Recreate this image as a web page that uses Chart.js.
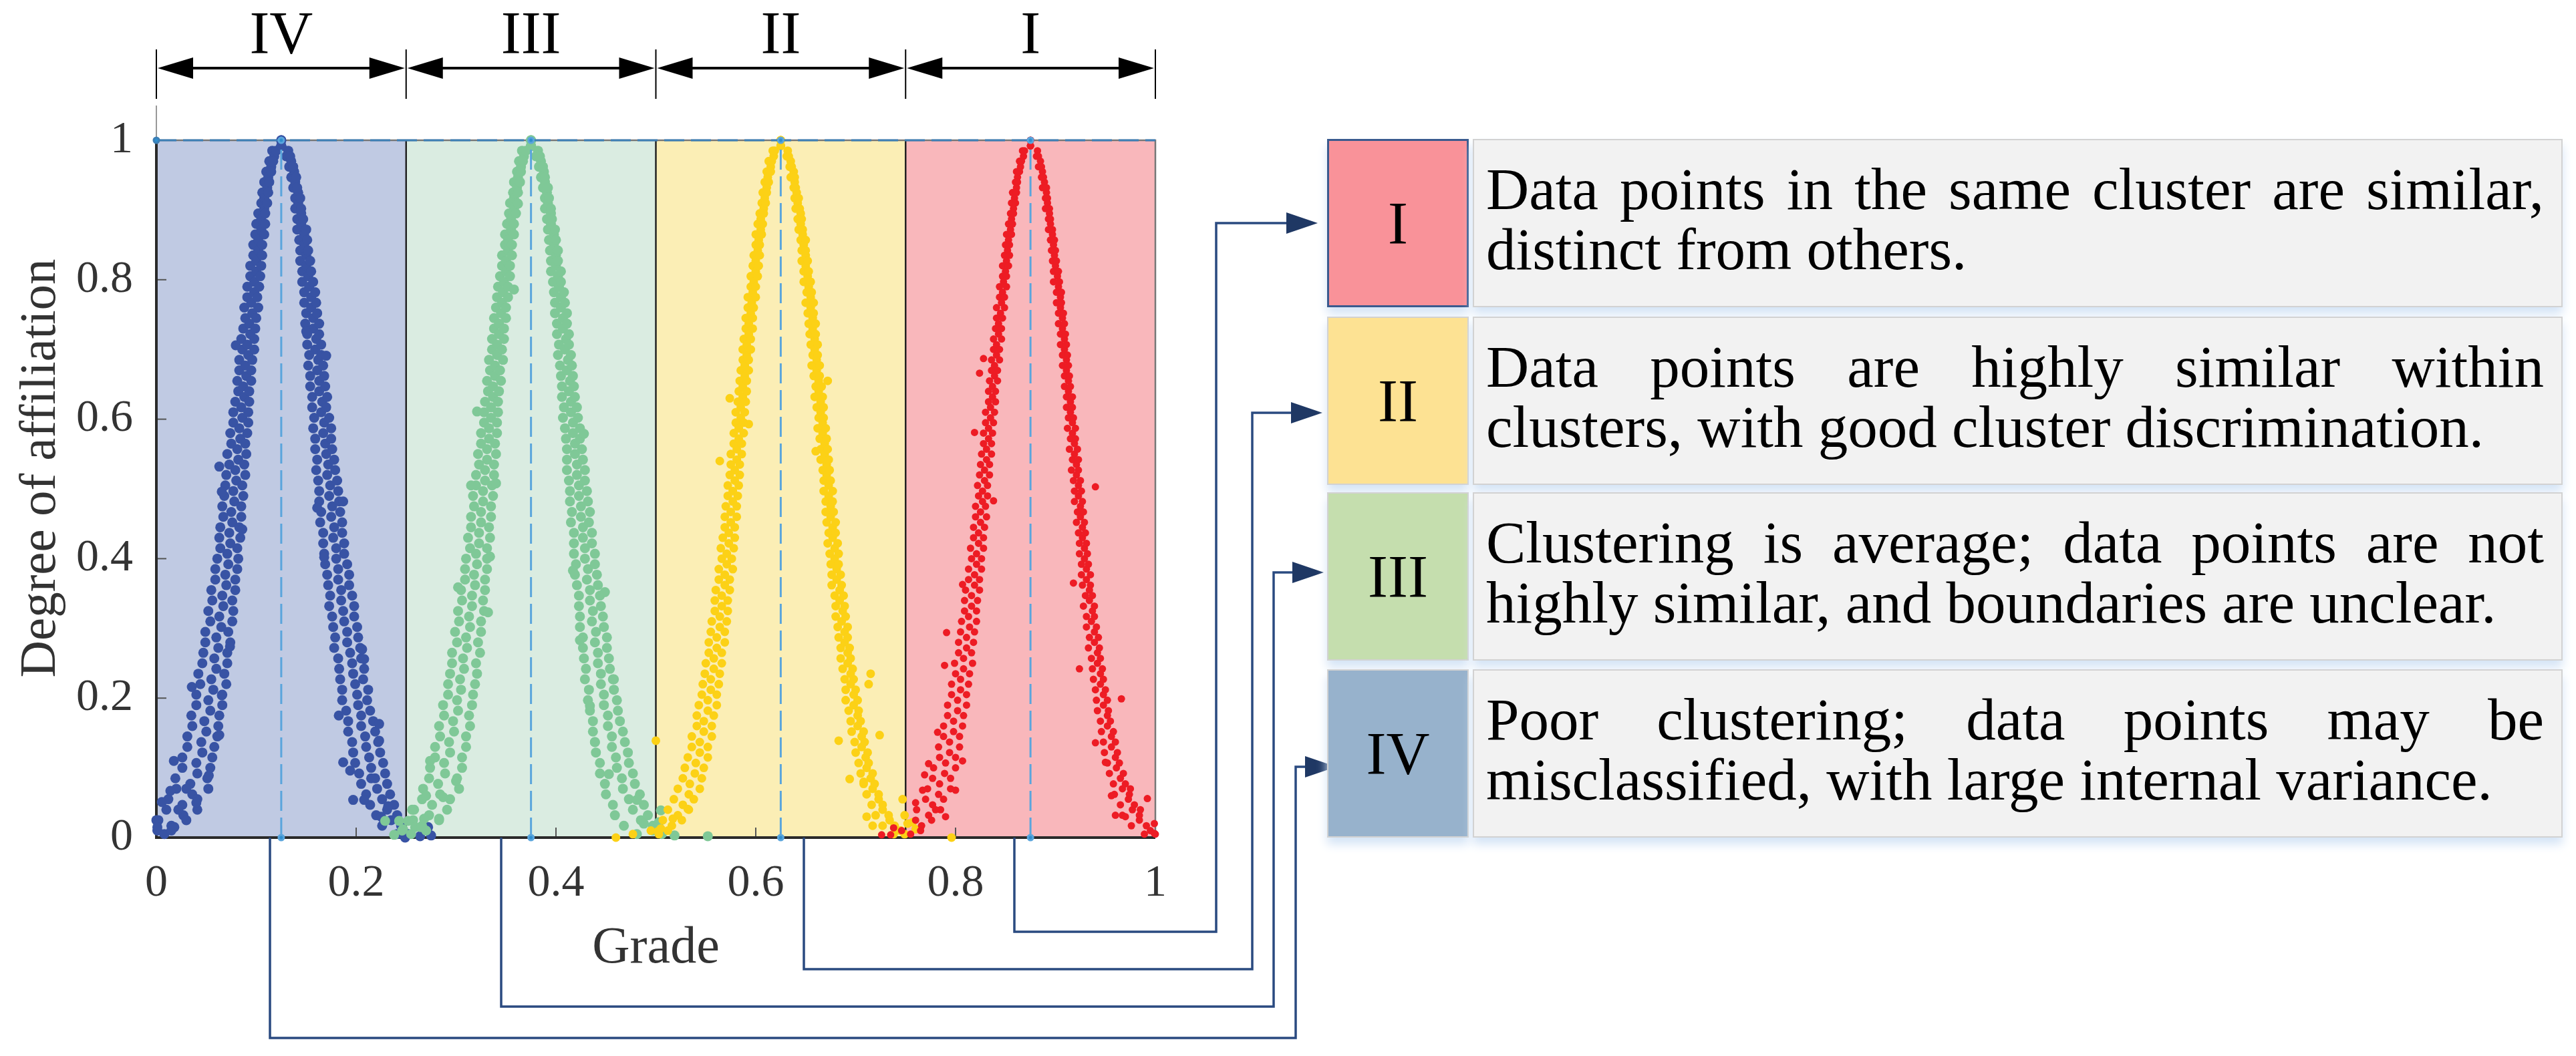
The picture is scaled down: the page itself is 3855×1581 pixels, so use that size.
<!DOCTYPE html>
<html>
<head>
<meta charset="utf-8">
<title>Degree of affiliation by grade</title>
<script src="https://cdn.jsdelivr.net/npm/chart.js@4/dist/chart.umd.min.js"></script>
<style>
  html, body { margin: 0; padding: 0; background: #fff; }
  #wrap { position: relative; width: 3855px; height: 1581px; overflow: hidden; font-family: "Liberation Serif", serif; color: #000; }
  canvas { position: absolute; left: 0; top: 0; }
  .key, .note { position: absolute; box-sizing: border-box; height: 252px; box-shadow: 0 10px 14px #d4e4f6; }
  .key { left: 1986px; width: 212px; display: flex; align-items: center; justify-content: center; font-size: 90px; border: 2px solid #d2d2d2; }
  .note { left: 2204px; width: 1631px; background: #f2f2f2; border: 2px solid #d2d2d2; padding: 28px 26px 0 18px; font-size: 89px; line-height: 90px; }
  .note div:first-child { text-align: justify; text-align-last: justify; }
</style>
</head>
<body>
<div id="wrap">
  <canvas id="grades" width="3855" height="1581"></canvas>
  <div class="key" style="top:208px;background:#f99299;border:3px solid #3a5a8e">I</div>
  <div class="note" style="top:208px"><div>Data points in the same cluster are similar,</div><div>distinct from others.</div></div>
  <div class="key" style="top:474px;background:#fde293">II</div>
  <div class="note" style="top:474px"><div>Data points are highly similar within</div><div>clusters, with good cluster discrimination.</div></div>
  <div class="key" style="top:737px;background:#c5deae">III</div>
  <div class="note" style="top:737px"><div>Clustering is average; data points are not</div><div>highly similar, and boundaries are unclear.</div></div>
  <div class="key" style="top:1002px;background:#97b2cc">IV</div>
  <div class="note" style="top:1002px"><div>Poor clustering; data points may be</div><div>misclassified, with large internal variance.</div></div>
</div>
<script>
const gradeTicks = [0, 0.2, 0.4, 0.6, 0.8, 1];
const affiliationTicks = [0, 0.2, 0.4, 0.6, 0.8, 1];
const bandEdges = [0, 0.25, 0.5, 0.75, 1];
const bandNames = ['IV', 'III', 'II', 'I'];
const bandCentres = [0.125, 0.375, 0.625, 0.875];

// affiliation levels the bands were read at
const levelsA = [1,.985,.97,.955,.94,.925,.91,.895,.88,.865,.85,.835,.82,.805,.79,.775,.76,.745,.73,.715,.7,.685,.67,.655,.64,.625,.61,.595,.58,.565,.55,.535,.52,.505,.49,.475,.46,.445,.43,.415,.4,.385,.37,.355,.34,.325,.31,.295,.28,.265,.25,.235,.22,.205,.19,.175,.16,.145,.13,.115,.1,.085,.07,.055,.04,.025,.01];
const levelsB = [.992,.977,.962,.947,.932,.917,.902,.887,.872,.857,.842,.827,.812,.797,.782,.767,.752,.737,.722,.707,.692,.677,.662,.647,.632,.617,.602,.587,.572,.557,.542,.527,.512,.497,.482,.467,.452,.437,.422,.407,.392,.377,.362,.347,.332,.317,.302,.287,.272,.257,.242,.227,.212,.197,.182,.167,.152,.137,.122,.107,.092,.077,.062,.047,.032,.017,.005];

// grade IV, outer edge, middle and inner edge of each flank
const ivLeftOuter = [.125,.116,.113,.110,.108,.106,.105,.102,.100,.099,.097,.097,.094,.094,.091,.091,.088,.089,.087,.085,.086,.083,.083,.081,.082,.079,.077,.077,.074,.075,.071,.073,.070,.069,.068,.066,.067,.064,.063,.064,.061,.059,.059,.055,.056,.052,.054,.049,.049,.047,.046,.042,.044,.040,.040,.035,.036,.031,.031,.026,.026,.019,.020,.012,.010,.002,.001];
const ivLeftMiddle = [.125,.118,.115,.112,.111,.108,.108,.105,.105,.102,.102,.100,.100,.098,.098,.095,.096,.093,.094,.091,.092,.089,.090,.087,.088,.085,.086,.083,.084,.081,.082,.079,.080,.077,.078,.075,.076,.073,.074,.071,.072,.069,.070,.066,.067,.063,.065,.060,.062,.058,.060,.055,.057,.052,.054,.048,.050,.045,.046,.040,.041,.034,.036,.026,.027,.015,.008];
const ivLeftInner = [.125,.120,.117,.115,.113,.112,.111,.109,.109,.108,.106,.106,.105,.104,.103,.101,.102,.100,.099,.098,.098,.096,.095,.095,.093,.093,.092,.092,.091,.089,.090,.088,.089,.086,.087,.085,.085,.083,.084,.081,.082,.081,.079,.079,.076,.077,.076,.072,.074,.071,.071,.068,.070,.066,.066,.063,.062,.061,.058,.056,.054,.051,.052,.041,.041,.030,.015];
const ivRightInner = [.125,.130,.133,.135,.137,.139,.139,.141,.141,.143,.144,.144,.146,.146,.148,.148,.150,.149,.151,.151,.153,.152,.154,.154,.156,.156,.158,.157,.159,.159,.161,.160,.162,.163,.163,.165,.164,.167,.167,.168,.169,.171,.172,.174,.173,.176,.177,.179,.178,.182,.183,.184,.186,.186,.190,.192,.192,.196,.197,.199,.203,.205,.210,.214,.220,.226,.241];
const ivRightMiddle = [.125,.132,.135,.138,.139,.142,.142,.145,.145,.148,.148,.150,.150,.152,.153,.155,.155,.157,.157,.160,.159,.162,.161,.163,.163,.166,.165,.168,.167,.169,.170,.172,.171,.174,.173,.176,.175,.178,.177,.180,.180,.182,.182,.185,.185,.187,.188,.191,.191,.194,.196,.197,.199,.201,.202,.205,.205,.209,.210,.213,.215,.219,.221,.226,.231,.235,.247];
const ivRightOuter = [.125,.134,.137,.140,.141,.144,.145,.147,.150,.151,.152,.154,.155,.157,.159,.160,.161,.163,.163,.165,.165,.167,.168,.169,.171,.170,.173,.175,.175,.176,.178,.179,.181,.182,.183,.184,.186,.186,.188,.188,.191,.193,.193,.196,.198,.198,.201,.202,.204,.205,.208,.207,.212,.211,.214,.217,.219,.222,.224,.227,.229,.231,.234,.238,.241,.245,.252];
const ivStray = [[.1826,.175],[.197,.054],[.187,.108],[.194,.096],[.223,.163],[.223,.139],[.208,.256],[.206,.270],[.0737,.274],[.0525,.089],[.063,.147],[.0655,.204],[.0355,.216],[.0175,.110],[.0055,.051],[.014,.067],[.208,.054],[.168,.402],[.249,0],[.264,.002],[.275,.003],[.272,.015],[.018,.015],[0,.025],[.001,.015],[.086,.442],[.063,.532],[.0655,.496],[.161,.473],[.187,.482],[.0795,.706],[.150,.726],[.170,.691],[.225,.03],[.232,.045],[.215,.085],[.03,.07],[.04,.05],[.022,.04]];

// grade III
const iiiLeftOuter = [.375,.366,.363,.361,.358,.357,.354,.353,.351,.349,.349,.346,.346,.344,.342,.341,.340,.338,.338,.336,.336,.333,.334,.331,.332,.329,.328,.328,.325,.325,.322,.323,.320,.320,.317,.318,.315,.315,.312,.314,.310,.309,.309,.305,.306,.302,.303,.299,.301,.296,.296,.294,.292,.292,.287,.288,.283,.284,.279,.279,.274,.273,.267,.266,.258,.257,.246];
const iiiLeftMiddle = [.375,.368,.365,.362,.361,.358,.358,.355,.355,.352,.352,.350,.350,.348,.347,.346,.345,.343,.343,.341,.341,.339,.339,.337,.337,.335,.335,.333,.333,.331,.331,.329,.329,.327,.327,.325,.325,.323,.323,.320,.321,.318,.319,.316,.316,.313,.314,.310,.311,.307,.308,.304,.305,.301,.302,.297,.298,.293,.294,.288,.289,.282,.284,.276,.273,.266,.255];
const iiiLeftInner = [.375,.370,.367,.365,.364,.362,.361,.360,.358,.358,.356,.356,.354,.354,.352,.352,.350,.350,.348,.348,.346,.347,.344,.345,.343,.342,.342,.341,.341,.339,.340,.338,.338,.336,.337,.335,.335,.333,.334,.331,.331,.331,.329,.329,.327,.328,.325,.325,.322,.324,.320,.321,.319,.317,.316,.313,.314,.310,.310,.306,.306,.301,.303,.294,.291,.283,.270];
const iiiRightInner = [.375,.380,.383,.385,.387,.389,.389,.391,.392,.393,.394,.395,.395,.397,.398,.399,.399,.401,.401,.403,.402,.404,.405,.406,.406,.408,.407,.409,.410,.411,.411,.411,.413,.414,.414,.416,.415,.418,.418,.418,.420,.419,.421,.423,.423,.424,.424,.427,.427,.428,.430,.429,.433,.432,.434,.437,.437,.439,.440,.444,.444,.449,.450,.457,.459,.468,.481];
const iiiRightMiddle = [.375,.382,.385,.388,.389,.391,.392,.395,.395,.398,.398,.400,.400,.402,.403,.405,.405,.407,.407,.410,.409,.412,.411,.414,.413,.415,.415,.417,.417,.419,.419,.421,.421,.423,.423,.425,.425,.427,.427,.429,.429,.432,.431,.434,.434,.437,.436,.440,.439,.442,.442,.445,.445,.448,.448,.452,.452,.456,.456,.460,.461,.466,.467,.473,.477,.485,.497];
const iiiRightOuter = [.375,.384,.387,.389,.392,.393,.395,.396,.399,.400,.402,.402,.405,.405,.408,.409,.411,.411,.413,.413,.415,.416,.417,.418,.419,.421,.422,.424,.424,.426,.427,.429,.429,.431,.432,.434,.433,.436,.436,.439,.439,.441,.442,.444,.445,.447,.448,.451,.451,.453,.454,.457,.458,.461,.462,.464,.467,.469,.472,.473,.477,.479,.484,.488,.492,.497,.506];
const iiiStray = [[.332,.323],[.302,.359],[.334,.403],[.417,.383],[.449,.352],[.424,.283],[.434,.189],[.458,.227],[.439,.137],[.453,.091],[.481,.054],[.274,.110],[.300,.081],[.287,.058],[.283,.027],[.505,.039],[.229,.024],[.238,.004],[.315,.505],[.340,.508],[.321,.611],[.428,.579],[.362,.909],[.358,.786],[.5187,.003],[.552,.002],[.243,.024],[.252,.024],[.247,.012],[.259,.015],[.265,.015],[.268,.027],[.256,.04],[.488,.02],[.498,.012],[.503,.022],[.27,.06]];

// grade II
const iiLeftOuter = [.625,.617,.613,.611,.609,.607,.606,.604,.602,.600,.600,.598,.597,.595,.595,.592,.592,.590,.590,.588,.587,.587,.585,.584,.583,.582,.580,.580,.578,.578,.575,.575,.574,.572,.572,.570,.569,.569,.567,.565,.566,.563,.563,.560,.559,.559,.556,.555,.553,.553,.550,.549,.547,.546,.543,.541,.541,.536,.536,.532,.529,.527,.522,.518,.512,.507,.495];
const iiLeftMiddle = [.625,.618,.615,.612,.611,.609,.608,.605,.605,.603,.602,.600,.600,.598,.597,.596,.595,.593,.593,.591,.591,.589,.589,.587,.587,.585,.585,.583,.583,.581,.581,.579,.579,.577,.577,.575,.575,.573,.573,.571,.571,.569,.569,.566,.566,.564,.564,.561,.561,.558,.558,.555,.555,.552,.552,.548,.548,.544,.544,.540,.539,.534,.533,.527,.522,.516,.503];
const iiLeftInner = [.625,.619,.616,.615,.613,.611,.610,.608,.607,.606,.604,.604,.603,.602,.600,.600,.598,.597,.597,.595,.595,.593,.593,.591,.591,.590,.589,.588,.588,.586,.586,.584,.584,.583,.582,.581,.581,.579,.579,.578,.576,.577,.574,.574,.572,.572,.571,.569,.569,.566,.566,.564,.563,.561,.561,.558,.556,.556,.552,.552,.548,.546,.544,.538,.533,.526,.512];
const iiRightInner = [.625,.631,.634,.635,.638,.639,.640,.642,.643,.645,.646,.646,.648,.648,.651,.650,.652,.653,.654,.655,.657,.656,.658,.660,.659,.661,.663,.662,.664,.665,.665,.667,.668,.668,.670,.670,.671,.673,.672,.674,.675,.676,.676,.679,.680,.680,.682,.683,.685,.685,.687,.689,.690,.690,.693,.695,.696,.699,.700,.703,.705,.708,.711,.716,.720,.727,.738];
const iiRightMiddle = [.625,.632,.635,.638,.639,.641,.642,.645,.645,.647,.648,.650,.650,.652,.653,.655,.655,.657,.657,.659,.659,.661,.661,.663,.663,.665,.665,.667,.667,.669,.669,.671,.671,.673,.673,.675,.675,.677,.677,.679,.679,.681,.681,.684,.684,.687,.686,.689,.689,.692,.692,.695,.695,.698,.698,.702,.702,.706,.706,.710,.711,.715,.717,.723,.727,.734,.745];
const iiRightOuter = [.625,.633,.636,.639,.640,.643,.644,.646,.647,.650,.650,.652,.653,.655,.656,.658,.658,.660,.660,.662,.662,.664,.664,.666,.667,.668,.668,.670,.671,.672,.673,.674,.675,.677,.677,.678,.680,.680,.682,.683,.683,.685,.686,.688,.689,.690,.692,.692,.694,.695,.697,.698,.700,.702,.703,.705,.708,.709,.712,.713,.717,.719,.723,.727,.733,.739,.749];
const iiStray = [[.5,.139],[.683,.139],[.715,.235],[.713,.22],[.724,.147],[.694,.084],[.708,.080],[.711,.030],[.747,.055],[.717,.017],[.517,.027],[.532,.041],[.796,0],[.460,0],[.477,.005],[.502,.009],[.505,.013],[.749,.032],[.760,.012],[.757,.022],[.752,.02],[.593,.593],[.574,.630],[.564,.540],[.672,.655],[.660,.554]];

// grade I
const iLeftOuter = [.875,.867,.864,.861,.860,.857,.856,.855,.853,.851,.850,.849,.847,.847,.844,.844,.841,.841,.840,.838,.838,.836,.836,.834,.833,.833,.830,.830,.828,.828,.826,.825,.824,.822,.823,.820,.820,.818,.818,.815,.816,.813,.813,.810,.809,.809,.806,.805,.803,.803,.799,.800,.796,.796,.792,.792,.788,.788,.783,.784,.778,.777,.772,.770,.761,.760,.746];
const iLeftMiddle = [.875,.868,.865,.862,.861,.859,.858,.856,.855,.853,.852,.851,.850,.848,.847,.846,.845,.843,.843,.841,.841,.839,.839,.837,.837,.835,.835,.833,.833,.831,.831,.829,.829,.827,.827,.825,.825,.823,.823,.821,.821,.819,.819,.816,.816,.813,.814,.811,.811,.808,.808,.805,.805,.802,.802,.798,.798,.794,.794,.790,.789,.784,.783,.777,.773,.766,.755];
const iLeftInner = [.875,.869,.866,.864,.862,.861,.860,.858,.857,.856,.854,.854,.853,.851,.851,.849,.849,.847,.846,.846,.844,.844,.842,.842,.840,.840,.839,.838,.837,.836,.836,.834,.834,.832,.832,.830,.831,.829,.828,.828,.826,.826,.824,.824,.822,.821,.821,.819,.818,.816,.817,.814,.813,.811,.811,.808,.807,.804,.804,.800,.800,.795,.795,.788,.785,.776,.765];
const iRightInner = [.875,.881,.883,.886,.887,.890,.890,.893,.893,.895,.896,.897,.898,.898,.901,.901,.903,.903,.905,.905,.907,.907,.909,.909,.911,.911,.913,.912,.915,.914,.917,.916,.918,.919,.919,.922,.921,.923,.924,.924,.926,.926,.927,.930,.928,.931,.931,.934,.933,.936,.937,.938,.940,.941,.942,.945,.946,.948,.949,.952,.954,.958,.959,.965,.967,.976,.989];
const iRightMiddle = [.875,.882,.885,.887,.889,.891,.892,.894,.895,.897,.898,.899,.900,.902,.903,.905,.905,.907,.907,.909,.909,.911,.911,.913,.913,.915,.915,.917,.917,.919,.919,.921,.921,.923,.923,.925,.925,.927,.927,.929,.929,.931,.931,.934,.934,.937,.936,.939,.939,.942,.942,.945,.945,.948,.948,.952,.952,.956,.956,.960,.961,.965,.967,.973,.977,.984,.995];
const iRightOuter = [.875,.883,.886,.888,.891,.892,.894,.895,.897,.899,.900,.901,.903,.904,.906,.906,.908,.909,.910,.911,.912,.913,.914,.915,.917,.917,.918,.920,.920,.922,.923,.923,.925,.926,.927,.928,.929,.930,.931,.932,.933,.935,.935,.937,.939,.939,.941,.943,.944,.945,.947,.948,.950,.952,.953,.955,.958,.960,.962,.964,.968,.970,.974,.979,.984,.991,1];
const iStray = [[.791,.294],[.789,.247],[.782,.151],[.773,.106],[.769,.090],[.767,.068],[.800,.068],[.807,.110],[.924,.242],[.966,.199],[.940,.136],[.950,.108],[.956,.060],[.960,.032],[.992,.056],[.999,.020],[.999,.006],[.726,.004],[.735,.004],[.738,.014],[.807,.363],[.918,.365],[.940,.503],[.828,.687],[.824,.666],[.838,.483],[.819,.581],[.985,.04],[.975,.07],[.97,.03],[.78,.04],[.79,.03],[.76,.05]];

const bandFills = ['#c0cae3', '#daece1', '#fbeeb5', '#f9b7bb'];
const W = 3855, H = 1581;
const plotBox = { left: 234, right: 1729, top: 210, bottom: 1254 };
const serif = '"Liberation Serif", serif';
const navy = '#1f3864';

// connector routes from below the axis to each key box
const links = [
  { fromX: 1518, dropY: 1395, riseX: 1820, toY: 334, tipX: 1972 },
  { fromX: 1203, dropY: 1451, riseX: 1874, toY: 618, tipX: 1979 },
  { fromX: 750, dropY: 1507, riseX: 1906, toY: 857, tipX: 1981 },
  { fromX: 404, dropY: 1554, riseX: 1939, toY: 1148, tipX: 2000 }
];

const zip = (xs, ys) => xs.map((x, i) => ({ x: x, y: ys[i] }));
const stray = pairs => pairs.map(p => ({ x: p[0], y: p[1] }));

function cluster(label, colour, radius, flanks, extra) {
  return {
    label: label,
    data: [
      ...zip(flanks[0], levelsA), ...zip(flanks[1], levelsB), ...zip(flanks[2], levelsA),
      ...zip(flanks[3], levelsB), ...zip(flanks[4], levelsA), ...zip(flanks[5], levelsB),
      ...stray(extra)
    ],
    backgroundColor: colour,
    borderWidth: 0,
    pointRadius: radius,
    clip: false
  };
}

function dashed(data, colour, radii) {
  return {
    type: 'line',
    data: data,
    borderColor: colour,
    borderWidth: 3,
    borderDash: [30, 10],
    backgroundColor: '#2f8fd0',
    pointRadius: radii,
    clip: false
  };
}

function arrowHead(ctx, tipX, y, dir, len, half, colour) {
  ctx.fillStyle = colour;
  ctx.beginPath();
  ctx.moveTo(tipX, y);
  ctx.lineTo(tipX - dir * len, y - half);
  ctx.lineTo(tipX - dir * len, y + half);
  ctx.closePath();
  ctx.fill();
}

const backdrop = {
  id: 'backdrop',
  beforeDatasetsDraw(chart) {
    const { ctx, scales: { x, y } } = chart;
    const top = y.getPixelForValue(1), bottom = y.getPixelForValue(0);
    const left = x.getPixelForValue(0), right = x.getPixelForValue(1);
    ctx.save();
    bandFills.forEach((fill, i) => {
      const a = x.getPixelForValue(bandEdges[i]), b = x.getPixelForValue(bandEdges[i + 1]);
      ctx.fillStyle = fill;
      ctx.fillRect(a, top, b - a, bottom - top);
    });
    ctx.strokeStyle = '#555';
    ctx.lineWidth = 2;
    gradeTicks.slice(1, -1).forEach(v => {
      const p = x.getPixelForValue(v);
      ctx.beginPath(); ctx.moveTo(p, bottom); ctx.lineTo(p, bottom - 15); ctx.stroke();
    });
    affiliationTicks.slice(1, -1).forEach(v => {
      const p = y.getPixelForValue(v);
      ctx.beginPath(); ctx.moveTo(left, p); ctx.lineTo(left + 15, p); ctx.stroke();
    });
    ctx.strokeStyle = '#222';
    ctx.lineWidth = 2.5;
    bandEdges.slice(1, -1).forEach(v => {
      const p = x.getPixelForValue(v);
      ctx.beginPath(); ctx.moveTo(p, top); ctx.lineTo(p, bottom); ctx.stroke();
    });
    // frame
    ctx.strokeStyle = '#777';
    ctx.lineWidth = 2.5;
    ctx.beginPath(); ctx.moveTo(left, top); ctx.lineTo(right, top); ctx.lineTo(right, bottom); ctx.stroke();
    ctx.strokeStyle = '#2a2a2a';
    ctx.lineWidth = 4;
    ctx.beginPath(); ctx.moveTo(left, top); ctx.lineTo(left, bottom); ctx.lineTo(right, bottom); ctx.stroke();
    ctx.strokeStyle = '#999';
    ctx.lineWidth = 2;
    ctx.beginPath(); ctx.moveTo(left, 158); ctx.lineTo(left, top); ctx.stroke();
    ctx.restore();
  }
};

const callouts = {
  id: 'callouts',
  afterDraw(chart) {
    const { ctx, scales: { x } } = chart;
    ctx.save();
    // range arrows above the plot
    ctx.strokeStyle = '#000';
    bandEdges.forEach(v => {
      const p = x.getPixelForValue(v);
      ctx.lineWidth = 2;
      ctx.beginPath(); ctx.moveTo(p, 74); ctx.lineTo(p, 148); ctx.stroke();
    });
    bandNames.forEach((name, i) => {
      const a = x.getPixelForValue(bandEdges[i]) + 2, b = x.getPixelForValue(bandEdges[i + 1]) - 2;
      ctx.lineWidth = 4;
      ctx.beginPath(); ctx.moveTo(a + 40, 102); ctx.lineTo(b - 40, 102); ctx.stroke();
      arrowHead(ctx, a, 102, -1, 53, 16, '#000');
      arrowHead(ctx, b, 102, 1, 53, 16, '#000');
      ctx.fillStyle = '#000';
      ctx.font = '90px ' + serif;
      ctx.textAlign = 'center';
      ctx.textBaseline = 'alphabetic';
      ctx.fillText(name, (a + b) / 2, 80);
    });
    // connectors
    links.forEach(l => {
      ctx.strokeStyle = '#2a4a80';
      ctx.lineWidth = 3.5;
      ctx.beginPath();
      ctx.moveTo(l.fromX, 1254);
      ctx.lineTo(l.fromX, l.dropY);
      ctx.lineTo(l.riseX, l.dropY);
      ctx.lineTo(l.riseX, l.toY);
      ctx.lineTo(l.tipX - 40, l.toY);
      ctx.stroke();
      arrowHead(ctx, l.tipX, l.toY, 1, 47, 16, navy);
    });
    // y title sits a little above the axis middle
    ctx.translate(62, 701);
    ctx.rotate(-Math.PI / 2);
    ctx.fillStyle = '#333';
    ctx.font = '77px ' + serif;
    ctx.textAlign = 'center';
    ctx.textBaseline = 'middle';
    ctx.fillText('Degree of affiliation', 0, 0);
    ctx.restore();
  }
};

new Chart(document.getElementById('grades'), {
  type: 'scatter',
  data: {
    datasets: [
      ...bandCentres.map(c => dashed([{ x: c, y: 0 }, { x: c, y: 1 }], '#5aa5dc', 4)),
      dashed([{ x: 0, y: 1 }, { x: 1, y: 1 }], '#3d7fb5', [4, 0]),
      cluster('I', '#ed1c24', 5.5, [iLeftOuter, iLeftMiddle, iLeftInner, iRightInner, iRightMiddle, iRightOuter], iStray),
      cluster('II', '#fcd116', 6.5, [iiLeftOuter, iiLeftMiddle, iiLeftInner, iiRightInner, iiRightMiddle, iiRightOuter], iiStray),
      cluster('III', '#7fc897', 7.5, [iiiLeftOuter, iiiLeftMiddle, iiiLeftInner, iiiRightInner, iiiRightMiddle, iiiRightOuter], iiiStray),
      cluster('IV', '#3853a4', 7.5, [ivLeftOuter, ivLeftMiddle, ivLeftInner, ivRightInner, ivRightMiddle, ivRightOuter], ivStray)
    ]
  },
  options: {
    responsive: false,
    animation: false,
    devicePixelRatio: 1,
    layout: { padding: { left: 0, right: W - plotBox.right, top: plotBox.top, bottom: 0 } },
    plugins: { legend: { display: false }, tooltip: { enabled: false } },
    scales: {
      x: {
        type: 'linear',
        min: 0,
        max: 1,
        grid: { display: false },
        border: { display: false },
        afterBuildTicks: s => { s.ticks = gradeTicks.map(v => ({ value: v })); },
        afterFit: s => { s.height = H - plotBox.bottom; },
        ticks: { color: '#333', padding: 20, maxRotation: 0, font: { family: serif, size: 68 }, callback: v => String(v) },
        title: { display: true, text: 'Grade', color: '#333', font: { family: serif, size: 78 }, padding: { top: 0, bottom: 114 } }
      },
      y: {
        type: 'linear',
        min: 0,
        max: 1,
        grid: { display: false },
        border: { display: false },
        afterBuildTicks: s => { s.ticks = affiliationTicks.map(v => ({ value: v })); },
        afterFit: s => { s.width = plotBox.left; },
        ticks: { color: '#333', padding: 27, font: { family: serif, size: 68 }, callback: v => String(v) }
      }
    }
  },
  plugins: [backdrop, callouts]
});
</script>
</body>
</html>
